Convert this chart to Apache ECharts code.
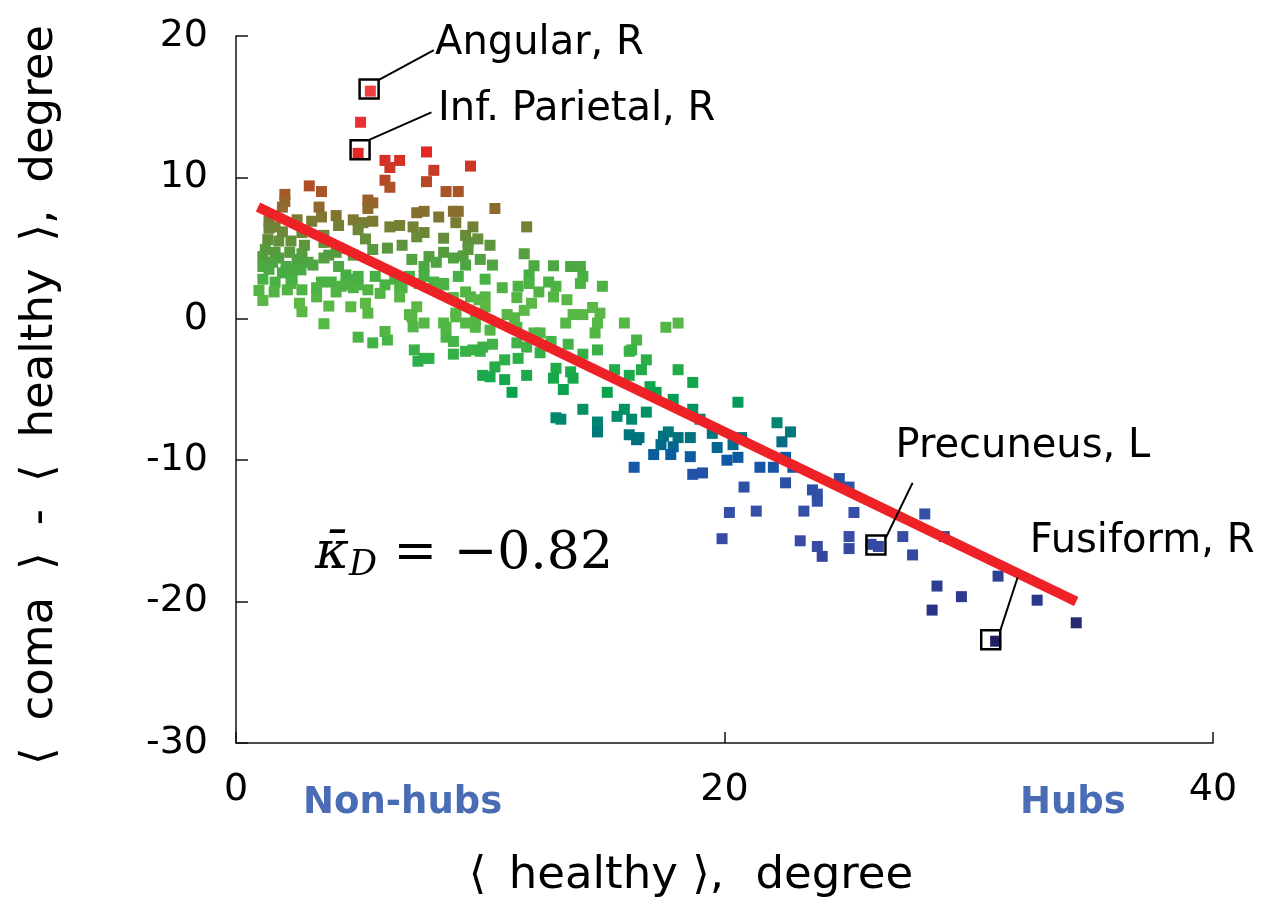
<!DOCTYPE html>
<html>
<head>
<meta charset="utf-8">
<script src="https://cdn.jsdelivr.net/npm/echarts@6/dist/echarts.min.js"></script>
<style>html,body{margin:0;padding:0;background:#fff;}#c{width:1266px;height:909px;}</style>
</head>
<body>
<div id="c"></div>
<script>
// ---- data (x: <healthy> degree, y: <coma> - <healthy> degree) ----
const ptsTop = [[5.5,16.1],[5.1,13.9],[5.0,11.7],[6.1,11.2],[6.7,11.2],[6.3,10.7],[7.8,11.8],[8.1,10.5],[9.6,10.8],[6.1,9.8],[6.3,9.3],[7.8,9.7],[8.6,9.0],[9.1,9.0],[3.0,9.4],[3.5,9.0],[2.0,8.8],[2.0,8.3],[1.9,7.9],[5.4,8.4],[5.6,8.2],[5.4,7.8],[3.4,7.9],[10.6,7.8],[7.4,7.5],[7.7,7.6],[8.9,7.6],[9.1,7.6]];
const ptsUpper = [[3.5,7.2],[8.3,7.2],[9.0,6.8],[9.7,6.5],[11.9,6.5],[1.35,6.9],[1.6,6.5],[2.5,7.0],[3.1,6.9],[4.1,7.3],[4.2,6.6],[4.8,7.0],[5.2,6.8],[5.6,6.9],[6.3,6.5],[6.7,6.6],[7.25,6.5],[7.4,5.8],[7.7,6.1],[8.5,5.7],[9.4,5.9],[9.9,5.65],[10.4,5.2],[9.5,5.4],[1.35,6.4],[1.9,6.15],[2.7,6.1],[3.6,5.9],[5.0,6.3],[1.3,5.6],[1.75,5.5],[2.25,5.5],[2.8,5.2],[3.6,5.4],[4.2,5.0],[5.3,5.65],[6.8,5.2],[1.2,4.9],[1.6,4.7],[2.2,4.7],[2.7,4.6],[1.1,4.4],[1.75,4.3],[2.5,4.2],[2.95,4.0],[3.6,4.3],[3.8,4.5],[4.1,4.7],[4.8,4.5],[5.6,4.9],[6.2,5.0],[7.2,4.2],[7.9,4.4],[8.5,4.7],[8.9,4.3],[9.3,4.45],[9.5,4.9],[10.0,4.2],[8.2,4.0],[11.8,4.6],[1.5,4.0],[2.6,4.0]];
const ptsMid = [[7.7,3.7],[10.5,3.8],[9.4,3.8],[12.2,3.75],[13.0,3.75],[13.7,3.7],[14.1,3.7],[14.2,3.0],[14.1,2.5],[15.0,2.3],[12.0,3.1],[12.4,1.9],[13.1,2.3],[12.8,2.6],[12.0,2.5],[11.55,2.3],[10.9,2.2],[10.2,2.8],[9.1,3.0],[8.5,2.5],[8.1,2.6],[7.7,3.0],[6.7,2.3],[1.35,3.5],[1.9,3.25],[2.4,3.5],[1.1,2.8],[1.6,2.6],[2.25,2.5],[0.94,2.0],[1.56,1.9],[2.1,2.05],[2.7,2.05],[1.1,1.3],[2.6,1.1],[2.7,0.5],[3.3,1.55],[3.5,2.6],[3.9,2.6],[4.2,3.7],[4.3,2.3],[4.1,1.9],[4.5,3.1],[5.0,2.4],[5.0,3.0],[5.4,2.05],[5.7,3.0],[6.1,2.4],[5.9,1.8],[6.5,2.8],[6.8,2.2],[7.1,3.0],[6.7,1.55],[7.5,2.5],[7.4,0.85],[7.1,0.3],[8.2,2.3],[8.5,2.4],[8.9,1.5],[9.4,1.9],[9.6,1.55],[9.95,1.35],[10.2,1.55],[10.2,0.85],[4.7,0.85],[5.3,1.1],[5.4,0.4],[3.8,0.9],[9.0,0.14],[2.05,3.7],[3.15,3.8],[1.1,3.7],[2.05,3.3],[2.66,3.46],[2.3,2.8],[4.5,2.4],[4.9,2.8],[3.3,2.2],[4.8,2.2],[11.5,1.5],[12.1,1.1],[13.0,1.55],[13.55,1.35],[14.6,0.8],[14.9,0.4],[14.2,0.3],[13.8,0.3],[11.1,0.3],[11.8,0.6],[9.0,0.4],[7.2,0.14],[11.4,0.07]];
const ptsLow = [[7.25,-0.57],[7.7,-0.3],[3.6,-0.35],[5.0,-1.3],[5.6,-1.7],[6.2,-1.5],[6.1,-0.9],[7.3,-2.2],[7.7,-2.8],[8.5,-0.3],[8.6,-1.3],[9.4,-0.3],[9.8,-0.07],[10.4,-0.8],[10.1,-2.0],[9.4,-2.3],[8.9,-2.5],[7.45,-3.0],[7.9,-2.8],[8.9,-1.6],[9.7,-2.2],[10.0,-2.3],[10.5,-1.8],[9.8,-0.6],[10.6,-3.4],[11.0,-2.9],[11.55,-2.8],[10.1,-4.0],[10.4,-4.1],[11.0,-4.3],[11.3,-5.2],[11.9,-4.0],[11.5,-1.7],[11.9,-2.0],[13.5,-0.3],[14.8,-0.3],[14.7,-1.0],[15.9,-0.3],[16.4,-1.5],[16.2,-2.2],[16.8,-2.9],[8.6,-0.6],[11.5,-0.6],[12.45,-1.0],[12.9,-1.6],[13.6,-1.8],[14.2,-2.5],[14.8,-2.2],[12.45,-2.4],[13.1,-3.5],[13.7,-3.75],[15.5,-3.6],[16.1,-4.0],[16.6,-3.6],[13.0,-4.2],[13.8,-4.2],[12.2,-1.0],[13.4,-5.0],[15.2,-5.2],[16.95,-4.8],[17.2,-5.2],[17.6,-0.6],[18.1,-0.3],[18.1,-3.6],[18.7,-4.5],[17.9,-5.7],[16.8,-6.6],[15.9,-6.4],[15.6,-6.9],[16.2,-7.1],[14.8,-7.3],[14.2,-6.4],[13.1,-7.0],[13.3,-7.1],[18.7,-6.4],[19.0,-7.1],[20.55,-5.9],[16.1,-2.3],[22.15,-7.35]];
const ptsBottom = [[14.8,-8.0],[16.1,-8.2],[16.4,-8.55],[17.1,-9.6],[17.7,-8.0],[17.5,-8.3],[18.1,-8.4],[18.6,-9.75],[18.6,-8.4],[19.5,-8.1],[19.7,-9.1],[20.35,-8.9],[20.1,-10.0],[20.55,-9.8],[16.3,-10.5],[18.7,-11.0],[19.1,-10.9],[17.4,-8.9],[17.9,-9.05],[17.8,-9.6],[16.5,-8.4],[20.7,-8.4],[22.7,-8.0],[22.35,-8.7],[22.5,-9.8],[22.0,-10.5],[22.8,-10.5],[21.45,-10.5],[20.8,-11.9],[22.5,-11.6],[24.7,-11.3],[25.1,-11.9],[23.6,-12.1],[23.8,-12.4],[23.8,-12.9],[20.2,-13.7],[21.3,-13.6],[23.25,-13.6],[25.3,-13.7],[19.9,-15.55],[23.1,-15.7],[23.8,-16.1],[24.0,-16.8],[25.1,-15.4],[25.1,-16.25],[26.3,-16.1],[26.0,-15.95],[27.3,-15.4],[27.7,-16.7],[28.2,-13.8],[29.0,-15.4],[31.2,-18.2],[28.7,-18.9],[29.7,-19.65],[28.5,-20.6],[32.8,-19.9],[34.4,-21.5],[31.1,-22.8]];

// regression line endpoints
const fitX = [0.9, 34.4];
const fitY = [7.9, -20.0];

// highlighted regions
const hlNames = ['Angular, R', 'Inf. Parietal, R', 'Precuneus, L', 'Fusiform, R'];
const hlX = [5.45, 5.08, 26.2, 30.9];
const hlY = [16.25, 11.95, -16.0, -22.7];
const leaderFromX = [5.85, 5.45, 26.6, 31.3];
const leaderFromY = [16.9, 12.65, -15.5, -22.0];
const leaderToX = [8.1, 8.0, 27.7, 32.0];
const leaderToY = [19.0, 14.6, -11.6, -18.3];
const labelX = [8.15, 8.27, 27.0, 32.5];
const labelY = [19.43, 14.77, -9.05, -15.76];

const kappaText = { x: 3.23, y: -16.7, value: '−0.82' };

const xTicks = [0, 20, 40];
const yTicks = [-30, -20, -10, 0, 10, 20];

// ---- colour ramp on the y value ----
const stops = [
  [-23, '#211d5e'], [-20, '#2b378c'], [-15, '#3a4fa8'], [-11.5, '#2c50a6'],
  [-10, '#0d58a8'], [-8.5, '#00707f'], [-7, '#008a6c'], [-5.5, '#05a052'],
  [-3.5, '#22ac48'], [-1, '#50b646'], [1, '#5cb845'], [3, '#45b044'],
  [4.5, '#549e40'], [6, '#6a8a38'], [7.5, '#86702f'], [9, '#a85528'],
  [10.5, '#c83a26'], [12, '#e62424'], [16.5, '#f04242']
];
function hex2rgb(h){return [parseInt(h.substr(1,2),16),parseInt(h.substr(3,2),16),parseInt(h.substr(5,2),16)];}
function colorFor(y){
  if (y <= stops[0][0]) return stops[0][1];
  for (let i = 0; i < stops.length - 1; i++) {
    const a = stops[i], b = stops[i+1];
    if (y <= b[0]) {
      const t = (y - a[0]) / (b[0] - a[0]);
      const ca = hex2rgb(a[1]), cb = hex2rgb(b[1]);
      const c = ca.map((v, k) => Math.round(v + (cb[k] - v) * t));
      return 'rgb(' + c.join(',') + ')';
    }
  }
  return stops[stops.length-1][1];
}

const allPts = [].concat(ptsTop, ptsUpper, ptsMid, ptsLow, ptsBottom);
const FONT = 'DejaVu Sans';
const SP = '\u2002\u200A';

const series = [
  {
    type: 'scatter', name: 'regions', data: allPts, symbol: 'rect', symbolSize: 11, z: 2,
    itemStyle: { color: p => colorFor(p.value[1]), opacity: 1 },
    emphasis: { disabled: true }, silent: true
  },
  {
    type: 'line', name: 'fit', data: fitX.map((x, i) => [x, fitY[i]]), symbol: 'none', z: 3,
    lineStyle: { color: '#ee2226', width: 10, cap: 'butt', opacity: 1 }, silent: true
  },
  {
    type: 'scatter', name: 'boxes', data: hlX.map((x, i) => [x, hlY[i]]), symbol: 'rect', symbolSize: 19, z: 4,
    itemStyle: { color: 'rgba(255,255,255,0)', borderColor: '#000', borderWidth: 2.5, opacity: 1 }, silent: true
  }
];
hlNames.forEach((n, i) => {
  series.push({
    type: 'line', data: [[leaderFromX[i], leaderFromY[i]], [leaderToX[i], leaderToY[i]]],
    symbol: 'none', z: 4, lineStyle: { color: '#000', width: 2, opacity: 1 }, silent: true
  });
});
series.push({
  type: 'scatter', name: 'labels', symbolSize: 0, z: 5, silent: true,
  itemStyle: { opacity: 1 },
  data: hlNames.map((n, i) => ({ name: n, value: [labelX[i], labelY[i]] })),
  label: { show: true, position: 'right', distance: 0, formatter: p => p.name, opacity: 1,
    fontFamily: FONT, fontSize: 40, color: '#000', verticalAlign: 'middle' }
});
series.push({
  type: 'scatter', name: 'kappa', symbolSize: 0, z: 5, silent: true,
  itemStyle: { opacity: 1 },
  data: [{ name: 'k', value: [kappaText.x, kappaText.y] }],
  label: { show: true, position: 'right', distance: 0, opacity: 1,
    formatter: () => '{k|\u03BA\u0304}{sub|D}{eq| = ' + kappaText.value + '}',
    rich: {
      k: { fontFamily: 'DejaVu Serif', fontStyle: 'italic', fontSize: 52, color: '#000' },
      sub: { fontFamily: 'DejaVu Serif', fontStyle: 'italic', fontSize: 35, color: '#000', padding: [22, 0, 0, 0] },
      eq: { fontFamily: 'DejaVu Serif', fontSize: 52, color: '#000' }
    }
  }
});

const chart = echarts.init(document.getElementById('c'), null, { renderer: 'canvas' });
chart.setOption({
  animation: false,
  backgroundColor: '#fff',
  grid: { left: 236, top: 36, right: 53, bottom: 166, containLabel: false },
  xAxis: {
    type: 'value', min: xTicks[0], max: xTicks[xTicks.length-1], interval: 20,
    axisLine: { onZero: false, lineStyle: { color: '#111', width: 1.5 } },
    axisTick: { inside: true, length: 11, lineStyle: { color: '#111', width: 1.5 } },
    axisLabel: { fontFamily: FONT, fontSize: 38, color: '#000', margin: 28 },
    splitLine: { show: false }
  },
  yAxis: {
    type: 'value', min: yTicks[0], max: yTicks[yTicks.length-1], interval: 10,
    axisLine: { show: true, onZero: false, lineStyle: { color: '#111', width: 1.5 } },
    axisTick: { show: true, inside: true, length: 12, lineStyle: { color: '#111', width: 1.5 } },
    axisLabel: { fontFamily: FONT, fontSize: 38, color: '#000', margin: 28 },
    splitLine: { show: false }
  },
  graphic: [
    { type: 'text', x: 691, y: 876, style: { text: '\u27E8\u2002healthy \u27E9,\u2002\u2009degree', font: '45px "DejaVu Sans"', fill: '#000', textAlign: 'center', textVerticalAlign: 'middle' } },
    { type: 'text', x: 40, y: 395, rotation: Math.PI / 2, style: { text: '\u27E8' + SP + 'coma' + SP + '\u27E9' + SP + '-' + SP + '\u27E8' + SP + 'healthy' + SP + '\u27E9,' + SP + 'degree', font: '45px "DejaVu Sans"', fill: '#000', textAlign: 'center', textVerticalAlign: 'middle' } },
    { type: 'text', x: 303, y: 803, style: { text: 'Non-hubs', font: 'bold 37px "DejaVu Sans"', fill: '#4a6cb5', textAlign: 'left', textVerticalAlign: 'middle' } },
    { type: 'text', x: 1020, y: 803, style: { text: 'Hubs', font: 'bold 37px "DejaVu Sans"', fill: '#4a6cb5', textAlign: 'left', textVerticalAlign: 'middle' } }
  ],
  series: series
});
</script>
</body>
</html>
